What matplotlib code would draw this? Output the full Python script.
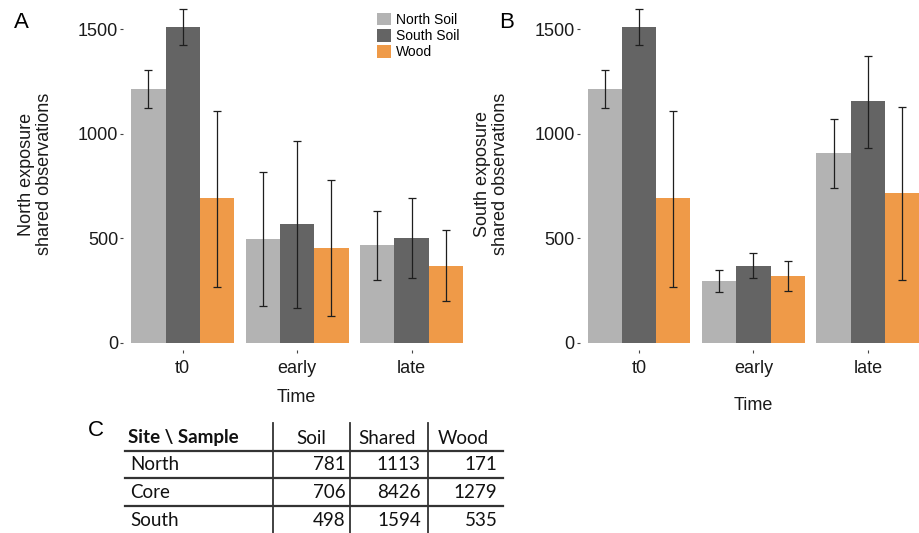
import numpy as np
import matplotlib.pyplot as plt
from matplotlib.patches import Patch
from matplotlib.lines import Line2D

plt.rcParams['font.family'] = ['Liberation Sans', 'DejaVu Sans']

# ---- data ----
times = ['t0', 'early', 'late']
samples = ['North Soil', 'South Soil', 'Wood']
colors = ['#b3b3b3', '#646464', '#ef9a48']

# panel A: north exposure (rows = samples, cols = times)
north_mean = [[1216, 495, 468], [1512, 570, 503], [691, 455, 369]]
north_low = [[1125, 174, 302], [1425, 168, 311], [266, 129, 198]]
north_high = [[1303, 815, 632], [1597, 967, 694], [1110, 780, 538]]

# panel B: south exposure
south_mean = [[1216, 295, 908], [1512, 367, 1157], [691, 321, 718]]
south_low = [[1125, 241, 740], [1425, 308, 933], [266, 249, 298]]
south_high = [[1303, 346, 1069], [1597, 428, 1372], [1110, 392, 1129]]

# panel C: table
table_cols = ['Soil', 'Shared', 'Wood']
table_rows = ['North', 'Core', 'South']
table_vals = [[781, 1113, 171], [706, 8426, 1279], [498, 1594, 535]]

W, H = 920, 533
fig = plt.figure(figsize=(W / 100, H / 100), dpi=100)


def px(x, y):
    return x / W, 1 - y / H


def bar_panel(left, mean, low, high, ylabel, xlab_y):
    ax = fig.add_axes([left / W, 1 - 350 / H, 357 / W, 350 / H])
    x = np.arange(1, len(times) + 1)
    width = 0.3
    for i, name in enumerate(samples):
        m = np.array(mean[i])
        lo = np.array(low[i])
        hi = np.array(high[i])
        xs = x + (i - 1) * width
        ax.bar(xs, m, width=width, color=colors[i], label=name, zorder=2)
        ax.errorbar(xs, m, yerr=[m - lo, hi - m], fmt='none', ecolor='#1e1e1e',
                    elinewidth=0.9, capsize=3, capthick=0.9, zorder=3)
    ax.set_xlim(0.48, 3.6)
    ax.set_ylim(-35, 1640)
    ax.set_xticks(x)
    ax.set_xticklabels(times)
    ax.set_yticks([0, 500, 1000, 1500])
    for s in ax.spines.values():
        s.set_visible(False)
    ax.tick_params(axis='both', length=2, width=0.8, color='#444444',
                   labelsize=13, labelcolor='#1a1a1a')
    ax.tick_params(axis='x', pad=5)
    ax.tick_params(axis='y', pad=1.5)
    cx = left + 357 / 2 - 5
    fig.text(*px(cx, xlab_y), 'Time', ha='center', va='center', fontsize=13, color='#1a1a1a')
    fig.text(*px(left - 88, 174), ylabel, rotation=90, ha='center', va='center',
             fontsize=13, linespacing=1.1, multialignment='center', color='#1a1a1a')
    return ax


axA = bar_panel(123.2, north_mean, north_low, north_high,
                'North exposure\nshared observations', 398)
axB = bar_panel(579.5, south_mean, south_low, south_high,
                'South exposure\nshared observations', 405)

handles = [Patch(facecolor=c, label=n) for c, n in zip(colors, samples)]
fig.legend(handles=handles, loc='upper left', bbox_to_anchor=px(377, 13),
           frameon=False, fontsize=10, handlelength=1.0, handleheight=1.0,
           handletextpad=0.35, labelspacing=0.15, borderpad=0, borderaxespad=0)

# panel letters
fig.text(*px(21, 22), 'A', ha='center', va='center', fontsize=16)
fig.text(*px(507, 22), 'B', ha='center', va='center', fontsize=16)
fig.text(*px(96, 430), 'C', ha='center', va='center', fontsize=16)

# ---- table C ----
tfont = ['Lato', 'DejaVu Sans']
row_y = [465, 493, 520]
col_center = [311.7, 386.7, 463]
col_right = [346.7, 421.7, 498.3]
fig.text(*px(128, 438), 'Site \\ Sample', ha='left', va='center', fontsize=13.5,
         fontweight='bold', family=tfont, color='#111111')
for c, name in zip(col_center, table_cols):
    fig.text(*px(c, 438), name, ha='center', va='center', fontsize=13.5,
             family=tfont, color='#111111')
for y, name, vals in zip(row_y, table_rows, table_vals):
    fig.text(*px(130, y), name, ha='left', va='center', fontsize=13.5,
             family=tfont, color='#111111')
    for r, v in zip(col_right, vals):
        fig.text(*px(r - 1, y), str(v), ha='right', va='center', fontsize=13.5,
                 family=tfont, color='#111111')

for y in [451, 478.3, 506]:
    fig.add_artist(Line2D([125 / W, 503.3 / W], [1 - y / H] * 2,
                          color='#333333', lw=1.6))
for x in [273.3, 350, 428.3]:
    fig.add_artist(Line2D([x / W] * 2, [1 - 423 / H, 0], color='#333333', lw=1.3))

fig.savefig('out.png', dpi=100)
